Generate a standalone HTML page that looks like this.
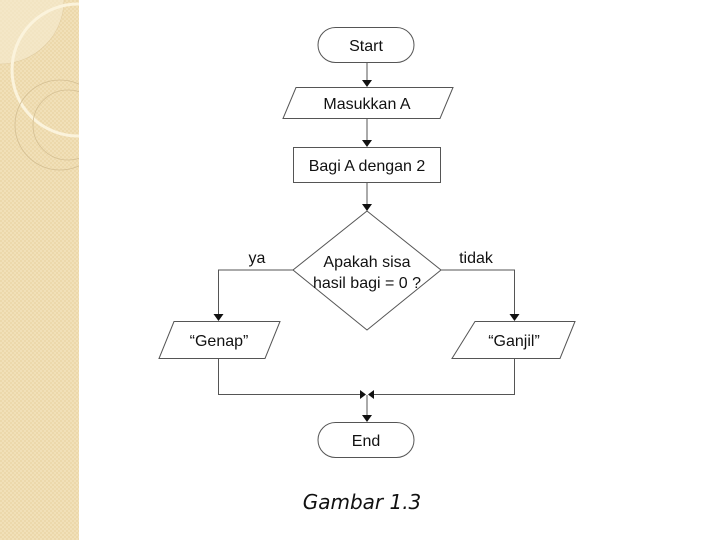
<!DOCTYPE html>
<html><head><style>
body{margin:0;width:720px;height:540px;background:#fff;overflow:hidden;position:relative}
</style></head><body>
<svg width="720" height="540" style="position:absolute;left:0;top:0">
<defs>
<pattern id="p" width="4" height="4" patternUnits="userSpaceOnUse">
<rect width="4" height="4" fill="#f1e0b8"/><rect width="2" height="2" fill="#ecd8ab"/><rect x="2" y="2" width="2" height="2" fill="#ecd8ab"/>
</pattern>
<clipPath id="c"><rect width="79" height="540"/></clipPath>
</defs>
<rect width="79" height="540" fill="url(#p)"/>
<g clip-path="url(#c)">
<circle cx="0" cy="0" r="64" fill="#f6ecd2" opacity="0.6" stroke="#d9c49a" stroke-width="0.6"/>
<circle cx="78" cy="70" r="66" fill="none" stroke="#fbf3dc" stroke-width="3"/>
<circle cx="60" cy="125" r="45" fill="none" stroke="#d4bf93" stroke-width="0.8"/>
<circle cx="68" cy="125" r="35" fill="none" stroke="#d4bf93" stroke-width="0.8"/>
</g>
<g fill="none" stroke="#555" stroke-width="1">
<rect x="318" y="27.5" width="96" height="35" rx="17.5" fill="#fff"/>
<polygon points="296,87.5 453,87.5 440,118.5 283,118.5" fill="#fff"/>
<rect x="293.5" y="147.5" width="147" height="35" fill="#fff"/>
<polygon points="367,211 441,270 367,330 293,270" fill="#fff"/>
<polygon points="174,321.5 280,321.5 265,358.5 159,358.5" fill="#fff"/>
<polygon points="475,321.5 575,321.5 560,358.5 452,358.5" fill="#fff"/>
<rect x="318" y="422.5" width="96" height="35" rx="17.5" fill="#fff"/>
<path d="M367,63 V82 M367,119 V142 M367,183 V206 M293,270 H218.5 V316 M441,270 H514.5 V316 M218.5,359 V394.5 H362 M514.5,359 V394.5 H372 M367,395 V417"/>
</g>
<g fill="#111">
<polygon points="362,80 372,80 367,87"/>
<polygon points="362,140 372,140 367,147"/>
<polygon points="362,204 372,204 367,211"/>
<polygon points="213.5,314 223.5,314 218.5,321"/>
<polygon points="509.5,314 519.5,314 514.5,321"/>
<polygon points="360,390 360,399 366,394.5"/>
<polygon points="374,390 374,399 368,394.5"/>
<polygon points="362,415 372,415 367,422"/>
</g>
<g font-family="Liberation Sans, sans-serif" font-size="16" fill="#111" text-anchor="middle">
<text x="366" y="51">Start</text>
<text x="367" y="109">Masukkan A</text>
<text x="367" y="171">Bagi A dengan 2</text>
<text x="367" y="267">Apakah sisa</text>
<text x="367" y="288">hasil bagi = 0 ?</text>
<text x="257" y="263">ya</text>
<text x="476" y="263">tidak</text>
<text x="219" y="346">“Genap”</text>
<text x="514" y="346">“Ganjil”</text>
<text x="366" y="446">End</text>
</g>
<text x="362" y="509" font-family="DejaVu Sans, sans-serif" font-style="italic" font-size="20" text-anchor="middle" fill="#111">Gambar 1.3</text>
</svg>
</body></html>
